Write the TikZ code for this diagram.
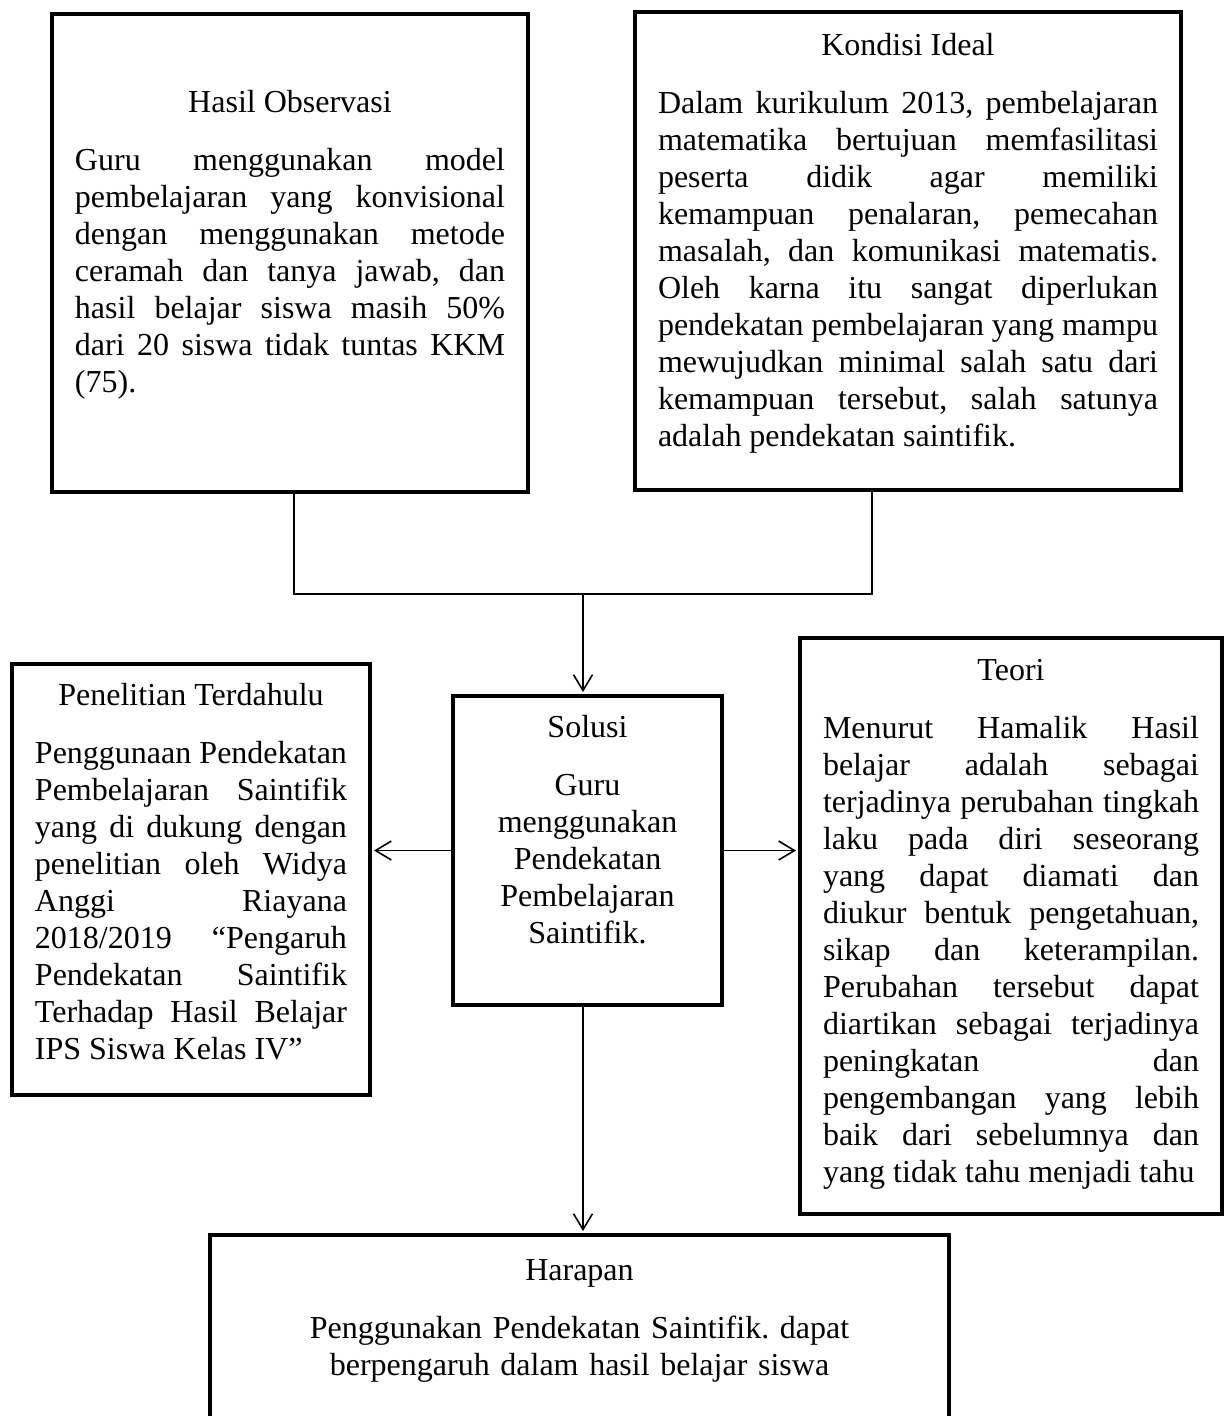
\documentclass[tikz,border=0pt]{standalone}
\usepackage{fontspec}
\setmainfont{Liberation Serif}
\usetikzlibrary{arrows.meta}
\hyphenpenalty=10000
\frenchspacing
\newcommand\judul[1]{{\centering #1\par}\vspace{7.875pt}}

\begin{document}
\begin{tikzpicture}[x=0.375pt,y=-0.375pt,
    kotak/.style={draw,line width=1.5pt,anchor=north,inner xsep=8.625pt,inner ysep=0pt,
      font=\fontsize{12pt}{13.875pt}\selectfont},
    garis/.style={line width=0.6pt},
    panah/.style={garis,-{Straight Barb[length=5.9pt,width=7.1pt]},shorten >=0.75pt}]
  \useasboundingbox (0,0) rectangle (1227,1416);
  \clip (0,0) rectangle (1227,1416);

  \node[kotak,align=justify,text width=161.25pt,text height=36.75pt,text depth=142.5pt] (hasil) at (290,12)
    {\judul{Hasil Observasi}Guru menggunakan model\linebreak pembelajaran yang konvisional\linebreak
     dengan menggunakan metode\linebreak ceramah dan tanya jawab, dan\linebreak
     hasil belajar siswa masih 50\%\linebreak dari 20 siswa tidak tuntas KKM\linebreak (75).};
  \node[kotak,align=justify,text width=187.5pt,text height=16.125pt,text depth=163.125pt] (kondisi) at (908,10)
    {\judul{Kondisi Ideal}Dalam kurikulum 2013, pembelajaran\linebreak matematika bertujuan memfasilitasi\linebreak
     peserta didik agar memiliki\linebreak kemampuan penalaran, pemecahan\linebreak
     masalah, dan komunikasi matematis.\linebreak Oleh karna itu sangat diperlukan\linebreak
     pendekatan pembelajaran yang mampu\linebreak mewujudkan minimal salah satu dari\linebreak
     kemampuan tersebut, salah satunya\linebreak adalah pendekatan saintifik.};
  \node[kotak,align=justify,text width=117pt,text height=15.375pt,text depth=146.25pt] (penelitian) at (191,662)
    {\judul{Penelitian Terdahulu}Penggunaan Pendekatan\linebreak Pembelajaran Saintifik\linebreak
     yang di dukung dengan\linebreak penelitian oleh Widya\linebreak Anggi Riayana\linebreak
     2018/2019 “Pengaruh\linebreak Pendekatan Saintifik\linebreak Terhadap Hasil Belajar\linebreak
     IPS Siswa Kelas IV”};
  \node[kotak,align=center,text width=83.625pt,text height=15.375pt,text depth=100.5pt] (solusi) at (587.5,694)
    {\judul{Solusi}Guru\\menggunakan\\Pendekatan\\Pembelajaran\\Saintifik.};
  \node[kotak,align=justify,text width=141pt,text height=15.75pt,text depth=200.25pt] (teori) at (1011,636)
    {\judul{Teori}Menurut Hamalik Hasil\linebreak belajar adalah sebagai\linebreak
     terjadinya perubahan tingkah\linebreak laku pada diri seseorang\linebreak
     yang dapat diamati dan\linebreak diukur bentuk pengetahuan,\linebreak
     sikap dan keterampilan.\linebreak Perubahan tersebut dapat\linebreak
     diartikan sebagai terjadinya\linebreak peningkatan dan\linebreak
     pengembangan yang lebih\linebreak baik dari sebelumnya dan\linebreak
     yang tidak tahu menjadi tahu};
  \node[kotak,align=center,text width=259.875pt,text height=16.875pt,text depth=64.5pt] (harapan) at (579.5,1233)
    {\judul{Harapan}Penggunakan Pendekatan Saintifik. dapat\\berpengaruh dalam hasil belajar siswa};

  \coordinate (kiri) at (294,594);
  \coordinate (kanan) at (872,594);
  \coordinate (tengah) at (583,594);

  %hasil, kondisi > solusi
  \draw[garis] (kiri |- hasil.south) -- (kiri) -- (kanan) -- (kanan |- kondisi.south);
  \draw[panah] (tengah) -- (tengah |- solusi.north);

  %solusi > penelitian, teori
  \draw[panah] (solusi.west) -- (solusi.west -| penelitian.east);
  \draw[panah] (solusi.east) -- (solusi.east -| teori.west);

  %solusi > harapan
  \draw[panah] (tengah |- solusi.south) -- (tengah |- harapan.north);
\end{tikzpicture}
\end{document}
